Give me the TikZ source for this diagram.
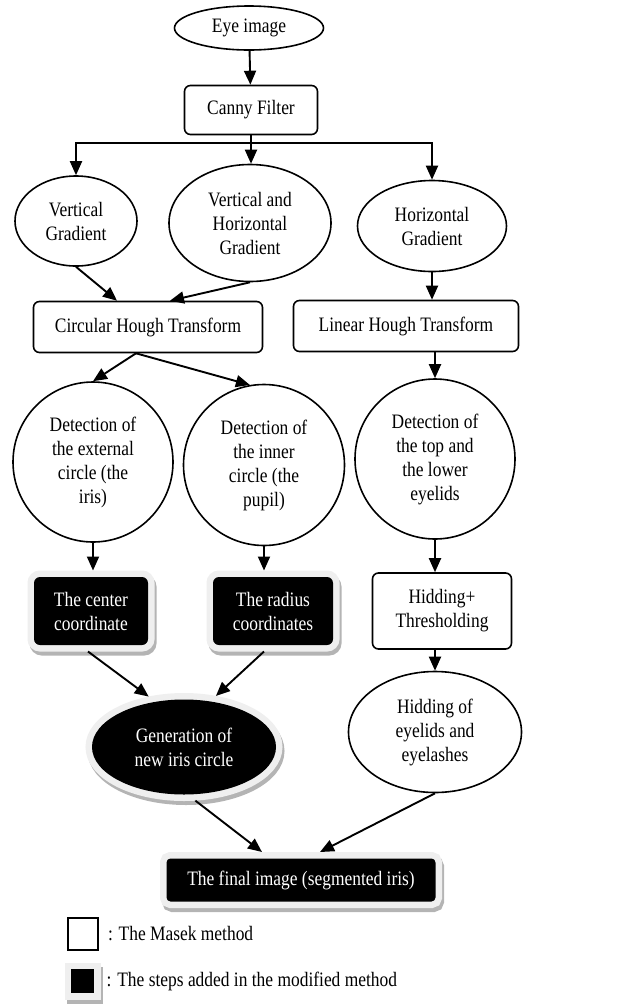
\documentclass[tikz,border=0pt]{standalone}
\usepackage{fontspec}
\setmainfont[FakeStretch=0.85]{Liberation Serif}
\usetikzlibrary{positioning}
\usetikzlibrary{calc}
\usetikzlibrary{arrows.meta,shapes}
\definecolor{rimgray}{HTML}{EFEFEF}
\definecolor{shadegray}{HTML}{B4B4B4}

\begin{document}
\begin{tikzpicture}[x=1pt, y=-1pt,
  every node/.style={font=\fontsize{20.5}{24}\selectfont, align=center, inner sep=2pt},
  masek/.style={draw, line width=1.6pt, fill=white},
  box/.style={masek, rectangle, rounded corners=6pt},
  oval/.style={masek, ellipse},
  added/.style={fill=black, text=white, outer sep=6.5pt,
    preaction={draw=shadegray, line width=13pt, transform canvas={xshift=2pt, yshift=-4pt}},
    preaction={draw=rimgray, line width=13pt}},
  arr/.style={line width=1.9pt, -{Triangle[length=14pt, width=12pt]}}]

\useasboundingbox (0,0) rectangle (632,1005);

\node[oval, minimum width=149pt, minimum height=44pt] (eye) at (249,28) {Eye image};
\node[box, minimum width=133pt, minimum height=49pt] (canny) at (251,110) {Canny Filter};

\node[oval, minimum width=122pt, minimum height=90pt] (vgrad) at (76,221) {Vertical\\Gradient};
\node[oval, minimum width=162pt, minimum height=117pt] (vhgrad) at (250,223)
  {Vertical and\\Horizontal\\Gradient};
\node[oval, minimum width=149pt, minimum height=91pt] (hgrad) at (432,226) {Horizontal\\Gradient};

\node[box, minimum width=229pt, minimum height=51pt] (cht) at (148,327) {Circular Hough Transform};
\node[box, minimum width=225pt, minimum height=51pt] (lht) at (406,326) {Linear Hough Transform};

\node[oval, minimum size=160pt] (extc) at (93,462) {Detection of\\the external\\circle (the\\iris)};
\node[oval, minimum size=161pt] (innc) at (264,465) {Detection of\\the inner\\circle (the\\pupil)};
\node[oval, minimum size=160pt] (lidc) at (435,459) {Detection of\\the top and\\the lower\\eyelids};

\node[added, rectangle, rounded corners=6pt, minimum width=114pt, minimum height=68pt]
  (center) at (91,611) {The center\\coordinate};
\node[added, rectangle, rounded corners=6pt, minimum width=120pt, minimum height=68pt]
  (radius) at (273,611) {The radius\\coordinates};
\node[box, minimum width=139pt, minimum height=76pt] (thr) at (442,611) {Hidding+\\Thresholding};

\node[added, ellipse, minimum width=184pt, minimum height=95pt] (gen) at (184,747)
  {Generation of\\new iris circle};
\node[oval, minimum width=173pt, minimum height=121pt] (hide) at (435,732)
  {Hidding of\\eyelids and\\eyelashes};

\node[added, rectangle, rounded corners=4pt, minimum width=269pt, minimum height=43pt]
  (final) at (301,880) {The final image (segmented iris)};

% legend
\node[draw, line width=1.6pt, minimum width=30pt, minimum height=32pt] (legw) at (83,934) {};
\node[right=7pt of legw] (legwtext) {: The Masek method};
\node[added, rectangle, minimum width=23pt, minimum height=24pt] (legb) at (82.5,981) {};
\node[right=4pt of legb] (legbtext) {: The steps added in the modified method};

% connectors
\draw[arr] (eye) -- (canny);
\coordinate (split) at ($(canny.south)+(0,8)$);
\draw[line width=1.9pt] (canny.south) -- (split);
\draw[arr] (split) -| (vgrad.north);
\draw[arr] (split) -- (split |- vhgrad.north);
\draw[arr] (split) -| (hgrad.north);

\draw[arr] (vgrad.south) -- ($(cht.north)+(-31,0)$);
\draw[arr] (vhgrad.south) -- ($(cht.north)+(22,0)$);
\draw[arr] (hgrad.south) -- (hgrad.south |- lht.north);

\draw[arr] ($(cht.south)+(-12,0)$) -- (extc.north);
\draw[arr] ($(cht.south)+(-12,0)$) -- (innc.100);
\draw[arr] (lht.south -| lidc.north) -- (lidc.north);

\draw[arr] (extc.south) -- (extc.south |- center.north);
\draw[arr] (innc.south) -- (innc.south |- radius.north);
\draw[arr] (lidc.south) -- (lidc.south |- thr.north);

\draw[arr] ($(center.south)+(-3,0)$) -- (gen.125);
\draw[arr] ($(radius.south)+(-9,0)$) -- (gen.58);
\draw[arr] (hide.north |- thr.south) -- (hide.north);

\draw[arr] (gen.-78) -- ($(final.north)+(-39,0)$);
\draw[arr] (hide.south) -- ($(final.north)+(19,0)$);
\end{tikzpicture}
\end{document}
